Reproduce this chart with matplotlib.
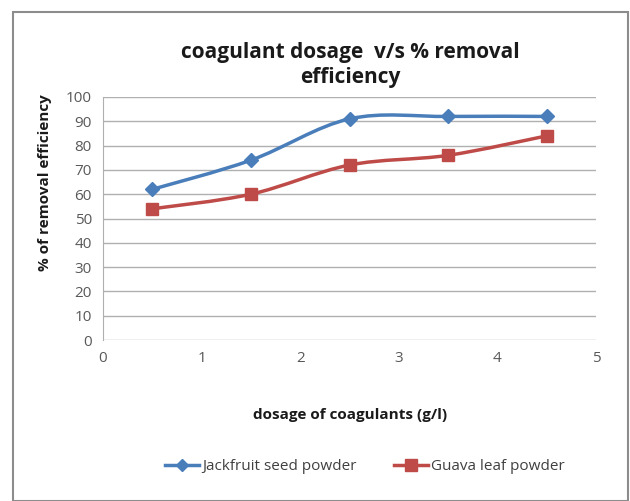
import matplotlib
matplotlib.use("Agg")
import matplotlib.pyplot as plt
from matplotlib.path import Path
from matplotlib.patches import PathPatch, Rectangle
from matplotlib.lines import Line2D

dosage = [0.5, 1.5, 2.5, 3.5, 4.5]
jackfruit = [62, 74, 91, 92, 92]
guava = [54, 60, 72, 76, 84]
series_names = ["Jackfruit seed powder", "Guava leaf powder"]
x_ticks = [0, 1, 2, 3, 4, 5]
y_ticks = [0, 10, 20, 30, 40, 50, 60, 70, 80, 90, 100]

blue = "#4A7EBB"
red = "#BE4B48"
fam = ["Open Sans", "DejaVu Sans"]

fig = plt.figure(figsize=(6.30, 5.01), dpi=100)
fig.patches.append(Rectangle((13/630, 0), 615/630, 489/501, transform=fig.transFigure,
                             fill=False, edgecolor="#8c8c8c", linewidth=1.5))
ax = fig.add_axes([103/630, 1-340/501, 493/630, 243/501])


def smooth_path(xs, ys):
    verts = [(xs[0], ys[0])]
    codes = [Path.MOVETO]
    n = len(xs)
    for i in range(n - 1):
        x0, y0 = (xs[i-1], ys[i-1]) if i > 0 else (xs[i], ys[i])
        x1, y1 = xs[i], ys[i]
        x2, y2 = xs[i+1], ys[i+1]
        x3, y3 = (xs[i+2], ys[i+2]) if i + 2 < n else (x2, y2)
        c1 = (x1 + (x2 - x0) / 6, y1 + (y2 - y0) / 6)
        c2 = (x2 - (x3 - x1) / 6, y2 - (y3 - y1) / 6)
        verts += [c1, c2, (x2, y2)]
        codes += [Path.CURVE4] * 3
    return Path(verts, codes)


for ys, col, mk, ms in [(jackfruit, blue, "D", 7), (guava, red, "s", 9)]:
    ax.add_patch(PathPatch(smooth_path(dosage, ys), facecolor="none", edgecolor=col,
                           linewidth=2.5, zorder=3))
    ax.plot(dosage, ys, linestyle="none", marker=mk, markersize=ms, color=col, zorder=4)

ax.set_xlim(0, 5)
ax.set_ylim(0, 100)
ax.set_xticks(x_ticks)
ax.set_yticks(y_ticks)
ax.grid(axis="y", color="#b0b0b0", linewidth=1)
ax.set_axisbelow(True)
for s in ["top", "right", "bottom"]:
    ax.spines[s].set_visible(False)
ax.spines["left"].set_color("#b0b0b0")
ax.tick_params(length=0, labelsize=11, labelcolor="#595959", pad=8)
for lab in ax.get_xticklabels() + ax.get_yticklabels():
    lab.set_family(fam)

fig.text(350/630, 1-65/501, "coagulant dosage  v/s % removal\nefficiency", ha="center",
         va="center", fontsize=15, fontweight="bold", family=fam, color="#1a1a1a",
         linespacing=1.25)
fig.text(45/630, 1-183/501, "% of removal efficiency", rotation=90, ha="center", va="center",
         fontsize=11, fontweight="bold", family=fam, color="#1a1a1a")
fig.text(350/630, 1-415/501, "dosage of coagulants (g/l)", ha="center", va="center",
         fontsize=11, fontweight="bold", family=fam, color="#1a1a1a")

handles = [Line2D([], [], color=blue, marker="D", markersize=6, linewidth=2.5),
           Line2D([], [], color=red, marker="s", markersize=8, linewidth=2.5)]
fig.legend(handles, series_names, loc="center", bbox_to_anchor=(365/630, 1-467/501),
           ncol=2, frameon=False, handlelength=2.2, handletextpad=0.2, columnspacing=2.5,
           prop={"family": fam, "size": 11}, labelcolor="#404040")

fig.savefig("out.png", dpi=100)
